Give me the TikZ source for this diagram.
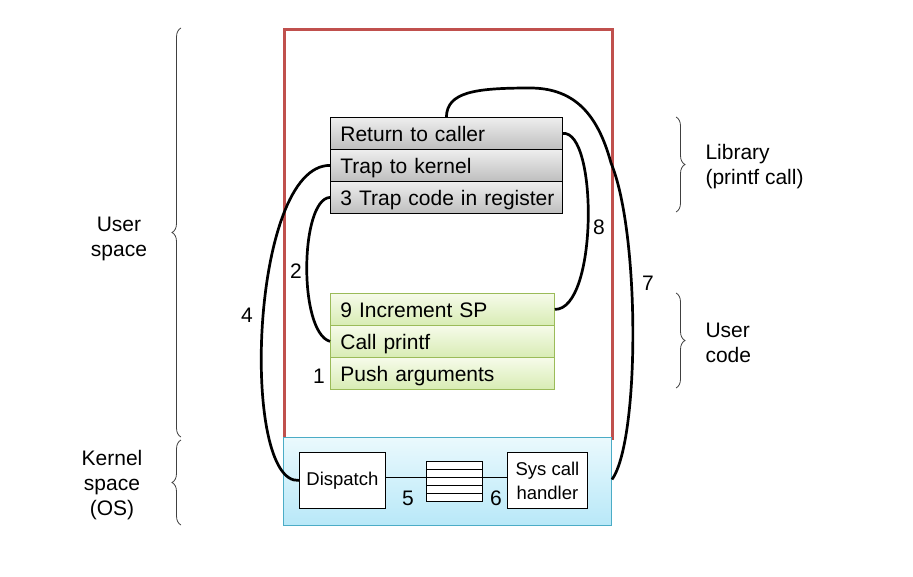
\documentclass[tikz,border=0pt]{standalone}
\usepackage{fontspec}
\setmainfont{Liberation Sans}
\usetikzlibrary{decorations.pathreplacing,calc}
\definecolor{ured}{RGB}{192,80,77}
\definecolor{ublue}{RGB}{75,172,198}
\definecolor{ugreen}{RGB}{155,187,89}
\definecolor{ugtop}{RGB}{246,251,234}
\definecolor{ugbot}{RGB}{216,236,180}
\definecolor{kbtop}{RGB}{234,249,253}
\definecolor{kbbot}{RGB}{184,232,248}
\definecolor{grtop}{RGB}{238,238,238}
\definecolor{grbot}{RGB}{190,190,190}
\begin{document}
\begin{tikzpicture}[x=1pt,y=-1pt,
  every node/.style={font=\fontsize{21}{25}\selectfont},
  rowbox/.style={draw, minimum height=32pt, text width=212pt, text height=15.3pt, text depth=0pt, inner xsep=10pt, inner ysep=0pt, align=left, anchor=north west},
  librow/.style={rowbox, draw=black, line width=0.8pt, top color=grtop, bottom color=grbot},
  userrow/.style={rowbox, draw=ugreen, line width=0.8pt, top color=ugtop, bottom color=ugbot, text width=204pt},
  link/.style={line width=2.7pt, black},
  bracedeco/.style={decorate, decoration={brace, amplitude=9pt}, line width=0.8pt, draw=black!75},
  kbox/.style={draw, line width=0.8pt, fill=white, align=center, anchor=north west, inner sep=2pt, font=\fontsize{18.5}{24}\selectfont},
  num/.style={inner sep=0pt}
]
\useasboundingbox (0,0) rectangle (913,576);

% regions
\node[draw=ured, line width=3pt, minimum width=328pt, minimum height=409pt, anchor=north west, inner sep=0pt] (user) at (283,28) {};
\node[draw=ublue, line width=1pt, top color=kbtop, bottom color=kbbot, minimum width=328pt, minimum height=88pt, anchor=north west, inner sep=0pt] (kernel) at (283,437) {};

% library rows
\node[librow] (ret) at (330,117) {\mbox{Return to caller}};
\node[librow] (trap) at (330,149) {\mbox{Trap to kernel}};
\node[librow] (code) at (330,181) {\mbox{3 Trap code in register}};

% user code rows
\node[userrow] (inc) at (330,293) {\mbox{9 Increment SP}};
\node[userrow] (call) at (330,325) {\mbox{Call printf}};
\node[userrow] (push) at (330,357) {\mbox{Push arguments}};

% kernel boxes
\node[kbox, minimum width=86pt, minimum height=56pt] (dispatch) at (299,452) {Dispatch};
\node[kbox, minimum width=80pt, minimum height=56pt] (handler) at (507,452) {Sys call\\handler};
\node[draw, line width=0.8pt, fill=white, minimum width=56pt, minimum height=40pt, anchor=north west, inner sep=0pt] (stack) at (426,461) {};
\foreach \k in {1,...,4}
  \draw[line width=0.8pt] ($(stack.north west)+(0,8*\k)$) -- ($(stack.north east)+(0,8*\k)$);
\draw[line width=0.8pt] ([yshift=3pt]dispatch.east) -- ([yshift=4pt]stack.west);
\draw[line width=0.8pt] ([yshift=4pt]stack.east) -- ([yshift=3pt]handler.west);

% connectors
\coordinate (c7a) at (611,163);
\coordinate (c7b) at (530,88);
\draw[link] (code.west) .. controls (300,199) and (298,332) .. (call.west);
\draw[link] (trap.west) .. controls (250,165) and (240,485) .. (dispatch.west);
\draw[link] (ret.east) .. controls (598,130) and (598,310) .. (inc.east);
\draw[link] ([yshift=2pt]kernel.east) .. controls (640,440) and (640,232) .. (c7a)
  .. controls (598,115) and (575,88) .. (c7b)
  .. controls (475,88) and (447,92) .. (ret.north);

% numbers
\node[num] (n1) at (319,376) {1};
\node[num] (n2) at (296,271) {2};
\node[num] (n4) at (247,315) {4};
\node[num] (n5) at (408,498) {5};
\node[num] (n6) at (496,498) {6};
\node[num] (n7) at (648,283) {7};
\node[num] (n8) at (599,227) {8};

% braces
\draw[bracedeco] (181,437) -- (181,28);
\draw[bracedeco] (181,525) -- (181,440);
\draw[bracedeco] (676,117) -- (676,212);
\draw[bracedeco] (676,293) -- (676,388);

% side labels
\node[align=center] (us) at (119,239) {User\\space};
\node[align=center] (ks) at (112,485) {Kernel\\space\\(OS)};
\node[align=left, anchor=west] (lib) at (702,167) {Library\\(printf call)};
\node[align=left, anchor=west] (uc) at (702,343) {User\\code};
\end{tikzpicture}
\end{document}
